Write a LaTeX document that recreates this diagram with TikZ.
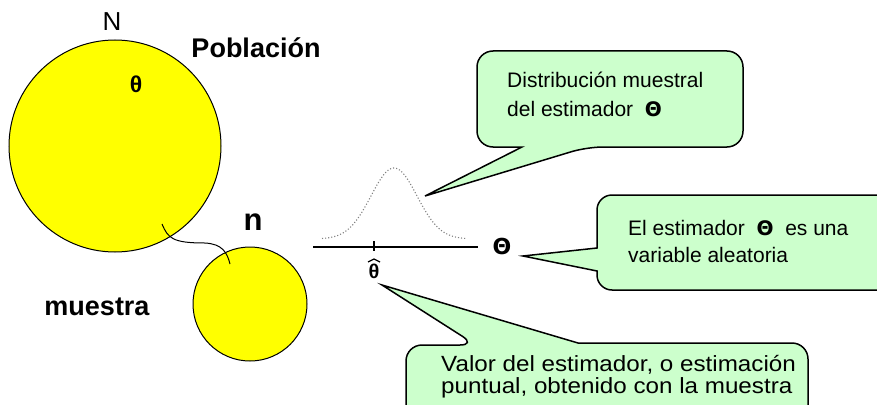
\documentclass[tikz,border=0pt]{standalone}
\usepackage{fontspec}
\setmainfont{Liberation Sans}
\newfontfamily\symfont{DejaVu Sans}
\newfontfamily\widefont[FakeStretch=1.1]{Liberation Sans}
\definecolor{popyellow}{HTML}{FFFF00}
\definecolor{callgreen}{HTML}{CCFFCC}
\begin{document}
\begin{tikzpicture}[x=1pt,y=-1pt,
  blob/.style={circle, draw=black, line width=1pt, fill=popyellow, inner sep=0pt},
  bigtxt/.style={inner sep=0pt, font=\fontsize{27}{30}\selectfont\bfseries},
  calltxt/.style={inner sep=0pt, anchor=base west, font=\fontsize{21}{25}\selectfont},
  callout/.style={draw=black, fill=callgreen, line width=1.5pt},
  bigtheta/.style={inner sep=0pt, font=\fontsize{22}{24}\selectfont\symfont\bfseries}]
\useasboundingbox (0,0) rectangle (877,404);
\clip (0,0) rectangle (877,404);

% population and sample
\node[blob, minimum size=212pt] (pop) at (115,146) {};
\node[blob, minimum size=114pt] (sam) at (250,304) {};
\coordinate (s1) at (162,224);
\coordinate (s2) at (230,264);
\draw[line width=1pt] (s1) .. controls (168,238) and (172,243) .. (205,243)
  .. controls (222,244) and (227,252) .. (s2);

\node[inner sep=0pt, font=\fontsize{26}{28}\selectfont] (N) at (112,22) {N};
\node[bigtxt] (pobl) at (256,48) {Población};
\node[inner sep=0pt, font=\fontsize{23}{26}\selectfont\bfseries] (theta) at (136,84) {θ};
\node[inner sep=0pt, font=\fontsize{31}{34}\selectfont\bfseries] (n) at (253,222) {n};
\node[bigtxt] (mue) at (97,307) {muestra};

% sampling distribution
\draw[dotted, gray, line width=1.1pt] plot[domain=322:466, samples=90, smooth]
  (\x, {239 - 71*exp(-((\x-394)^2)/(2*23^2))});
\coordinate (ax1) at (313,247);
\coordinate (ax2) at (478,247);
\draw[line width=1.2pt] (ax1) -- (ax2);
\coordinate (tk1) at (374,241);
\coordinate (tk2) at (374,251);
\draw[line width=2pt] (tk1) -- (tk2);
\node[inner sep=0pt, font=\fontsize{20}{24}\selectfont\bfseries] (thetahat) at (374,271) {θ};
\draw[line width=1.3pt] ([xshift=-6pt,yshift=9pt]thetahat.center) -- ([yshift=12pt]thetahat.center) -- ([xshift=6pt,yshift=9pt]thetahat.center);
\node[bigtheta] (Theta) at (502,246) {Θ};

% callout 1
\draw[callout] (477,100) [rounded corners=16] -- (477,51) -- (743,51) -- (743,147) -- (587,147)
  [sharp corners] -- (425,196) -- (522,147) [rounded corners=16] -- (477,147) -- cycle;
\node[calltxt] (c1a) at (507,87) {Distribución muestral};
\node[calltxt] (c1b) at (507,116) {del estimador \ {\fontsize{20}{24}\selectfont\symfont\bfseries Θ}};

% callout 2
\draw[callout] (523,256) -- (597,248) -- (597,210) arc (180:270:15) -- (877,195)
  arc (270:360:15) -- (892,275) arc (0:90:15) -- (612,290) arc (90:180:15) -- (597,271) -- cycle;
\node[calltxt] (c2a) at (628,235) {El estimador \ {\fontsize{20}{24}\selectfont\symfont\bfseries Θ} \ es una};
\node[calltxt] (c2b) at (628,262) {variable aleatoria};

% callout 3
\draw[callout] (406,390) [rounded corners=16] -- (406,345) -- (476,345)
  [sharp corners] -- (382,285) -- (578,343) [rounded corners=16] -- (808,343) -- (808,440) -- (406,440) -- cycle;
\node[calltxt, font=\fontsize{22}{24}\widefont] (c3a) at (441,371) {Valor del estimador, o estimación};
\node[calltxt, font=\fontsize{22}{24}\widefont] (c3b) at (441,393) {puntual, obtenido con la muestra};
\end{tikzpicture}
\end{document}
